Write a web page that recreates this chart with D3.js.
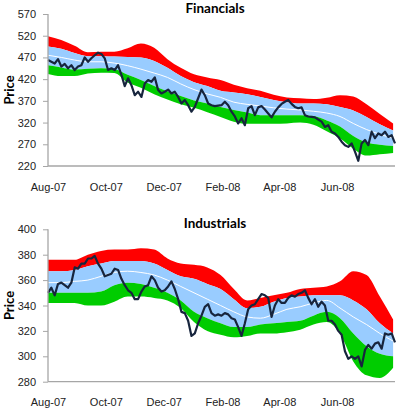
<!DOCTYPE html>
<html>
<head>
<meta charset="utf-8">
<script src="https://cdn.jsdelivr.net/npm/d3@7"></script>
<style>
  body { margin: 0; background: #fff; }
  svg { display: block; font-family: Lato, "Open Sans", sans-serif; }
  .tick-label { font-size: 11px; fill: #222; }
  .title { font-size: 13.5px; font-weight: bold; fill: #000; }
  .y-title { font-size: 13px; font-weight: bold; fill: #000; }
</style>
</head>
<body>
<div id="wrapper"></div>
<script>
// 1. Data
const monthLabels = ["Aug-07", "Oct-07", "Dec-07", "Feb-08", "Apr-08", "Jun-08"];
const finTicks = [220, 270, 320, 370, 420, 470, 520, 570];
const indTicks = [280, 300, 320, 340, 360, 380, 400];

// bands sampled every 14 days from 1 Aug 2007
const finUpper2 = [519, 510, 497, 482, 483, 483, 491, 502, 492, 466, 446, 431, 424, 418, 407, 399, 393, 384, 378, 376, 374, 377, 383, 380, 362, 340, 318];
const finUpper1 = [495, 490, 480, 473, 473, 472, 471, 470, 462, 446, 427, 413, 404, 393, 389, 385, 379, 372, 367, 364, 364, 362, 356, 348, 333, 316, 302];
const finMean = [475, 470, 464, 460, 460, 457, 451, 443, 434, 424, 409, 396, 386, 378, 367, 362, 358, 354, 351, 349, 346, 342, 334, 318, 304, 293, 284];
const finLower1 = [452, 447, 442, 444, 445, 443, 430, 418, 404, 392, 381, 371, 364, 356, 349, 343, 337, 337, 337, 337, 335, 325, 311, 289, 274, 269, 266];
const finLower2 = [432, 427, 427, 433, 435, 434, 412, 400, 385, 373, 362, 354, 344, 333, 322, 317, 317, 317, 318, 320, 315, 300, 284, 260, 244, 247, 250];
const finPrice = [464, 460, 456, 466, 449, 455, 445, 452, 441, 449, 452, 470, 460, 468, 475, 481, 478, 468, 441, 445,
  441, 452, 430, 404, 422, 406, 383, 391, 379, 410, 418, 414, 424, 395, 387, 391, 396, 387, 391, 379,
  364, 372, 360, 345, 356, 376, 396, 383, 364, 360, 358, 359, 360, 368, 360, 345, 334, 318, 330, 314,
  353, 358, 337, 355, 358, 350, 341, 332, 345, 355, 363, 368, 372, 363, 356, 353, 355, 337, 334, 333,
  332, 327, 322, 310, 314, 299, 295, 287, 276, 268, 264, 272, 253, 232, 272, 280, 268, 299, 284, 295,
  291, 299, 287, 291, 272];

const indUpper2 = [376, 376, 376, 380, 383, 384, 384, 385, 384, 377, 373, 372, 370, 364, 353, 344, 346, 348, 350, 353, 354, 355, 359, 367, 364, 347, 329];
const indUpper1 = [367, 367, 368, 371, 373, 375, 375, 375, 373, 368, 363, 361, 357, 353, 345, 338, 339, 343, 346, 347, 348, 348, 348, 344, 337, 326, 318];
const indMean = [358, 358, 359, 360, 363, 366, 367, 366, 364, 360, 355, 350, 345, 340, 335, 331, 330, 333, 337, 339, 342, 344, 338, 331, 325, 318, 312];
const indLower1 = [350, 350, 350, 350, 351, 356, 358, 357, 354, 350, 344, 335, 330, 326, 323, 323, 325, 326, 327, 328, 332, 335, 330, 318, 308, 302, 300];
const indLower2 = [342, 342, 342, 340, 340, 343, 347, 347, 346, 344, 338, 327, 320, 317, 315, 316, 318, 318, 319, 321, 325, 327, 318, 296, 285, 283, 291];
const indPrice = [350, 354, 348, 357, 358, 356, 354, 358, 370, 369, 373, 373, 377, 377, 379, 373, 369, 363, 364, 365,
  369, 368, 361, 356, 352, 350, 345, 345, 351, 355, 356, 363, 360, 354, 351, 352, 355, 359, 353, 345,
  335, 334, 328, 316, 318, 326, 332, 339, 341, 334, 332, 333, 332, 334, 333, 330, 329, 323, 316, 326,
  337, 340, 341, 345, 349, 348, 346, 331, 340, 345, 342, 342, 346, 348, 347, 349, 350, 352, 346, 341,
  345, 339, 343, 340, 328, 328, 325, 320, 317, 304, 298, 300, 298, 300, 292, 305, 309, 306, 310, 311,
  306, 318, 317, 318, 311];

// 2. Dimensions
const dimensions = { width: 400, height: 410, left: 48, right: 395 };
const startDate = new Date(2007, 7, 1);
const endDate = new Date(2008, 7, 1);
const bandDates = d3.range(finMean.length).map((i) => d3.timeDay.offset(startDate, 14 * i));
const priceDates = (n) =>
  d3.range(n).map((i) => new Date(+startDate + (i * (+endDate - +startDate)) / (n - 1)));

const parseMonth = d3.timeParse("%b-%y");

const svg = d3
  .select("#wrapper")
  .append("svg")
  .attr("width", dimensions.width)
  .attr("height", dimensions.height);

const xScale = d3.scaleTime().domain([startDate, endDate]).range([dimensions.left, dimensions.right]);

function drawPanel(p) {
  const yScale = d3.scaleLinear().domain(p.domain).range([p.bottom, p.top]);
  const g = svg.append("g");

  const rows = bandDates.map((d, i) => ({
    date: d,
    u2: p.upper2[i],
    u1: p.upper1[i],
    m: p.mean[i],
    l1: p.lower1[i],
    l2: p.lower2[i],
  }));

  const band = (a, b) =>
    d3
      .area()
      .curve(d3.curveMonotoneX)
      .x((d) => xScale(d.date))
      .y0((d) => yScale(d[a]))
      .y1((d) => yScale(d[b]));

  g.append("path").attr("d", band("u1", "u2")(rows)).attr("fill", "#ff0000");
  g.append("path").attr("d", band("l1", "u1")(rows)).attr("fill", "#99ccff");
  g.append("path").attr("d", band("l2", "l1")(rows)).attr("fill", "#00cc00");

  g.append("path")
    .attr(
      "d",
      d3
        .line()
        .curve(d3.curveMonotoneX)
        .x((d) => xScale(d.date))
        .y((d) => yScale(d.m))(rows)
    )
    .attr("fill", "none")
    .attr("stroke", "#ffffff")
    .attr("stroke-width", 1);

  const dates = priceDates(p.price.length);
  g.append("path")
    .attr(
      "d",
      d3
        .line()
        .x((d, i) => xScale(dates[i]))
        .y((d) => yScale(d))(p.price)
    )
    .attr("fill", "none")
    .attr("stroke", "#17253d")
    .attr("stroke-width", 2.2)
    .attr("stroke-linejoin", "round");

  // axes
  const yAxis = g
    .append("g")
    .attr("transform", `translate(${dimensions.left},0)`)
    .call(d3.axisLeft(yScale).tickValues(p.ticks).tickSize(5).tickPadding(7));
  const xAxis = g
    .append("g")
    .attr("transform", `translate(0,${p.bottom})`)
    .call(
      d3
        .axisBottom(xScale)
        .tickValues(monthLabels.map(parseMonth))
        .tickFormat(d3.timeFormat("%b-%y"))
        .tickSize(0)
        .tickPadding(17)
    );
  [yAxis, xAxis].forEach((a) => {
    a.select(".domain").attr("stroke", "#a6a6a6").attr("stroke-width", 1.3);
    a.selectAll(".tick line").attr("stroke", "#a6a6a6");
    a.selectAll(".tick text").attr("class", "tick-label").attr("font-family", null).attr("font-size", null);
  });
  yAxis.select(".domain").attr("d", `M0,${p.bottom}V${p.top}`);
  xAxis.select(".domain").attr("d", `M${dimensions.left},0H${dimensions.right}`);

  svg.append("text").attr("class", "title").attr("x", 215).attr("y", p.titleY)
    .attr("text-anchor", "middle").text(p.title);
  svg.append("text").attr("class", "y-title")
    .attr("transform", `translate(13.5,${(p.top + p.bottom) / 2}) rotate(-90)`)
    .attr("text-anchor", "middle").text("Price");
}

drawPanel({
  title: "Financials", titleY: 13, top: 14, bottom: 166, domain: [220, 570], ticks: finTicks,
  upper2: finUpper2, upper1: finUpper1, mean: finMean, lower1: finLower1, lower2: finLower2, price: finPrice,
});
drawPanel({
  title: "Industrials", titleY: 228, top: 229.3, bottom: 381.7, domain: [280, 400], ticks: indTicks,
  upper2: indUpper2, upper1: indUpper1, mean: indMean, lower1: indLower1, lower2: indLower2, price: indPrice,
});
</script>
</body>
</html>
